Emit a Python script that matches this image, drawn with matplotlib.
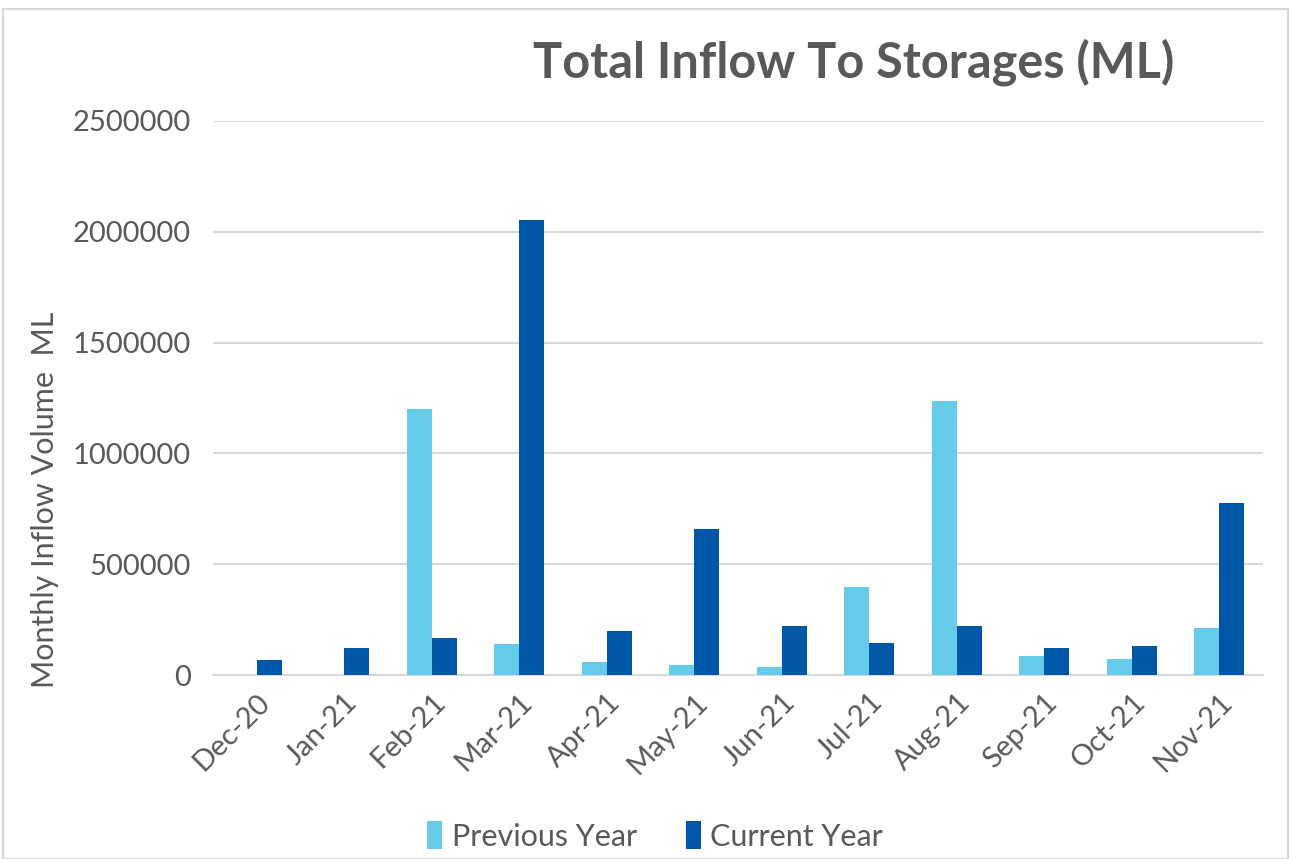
import matplotlib
matplotlib.use("Agg")
import matplotlib.pyplot as plt
import numpy as np
from matplotlib.patches import Rectangle

months = ["Dec-20", "Jan-21", "Feb-21", "Mar-21", "Apr-21", "May-21",
          "Jun-21", "Jul-21", "Aug-21", "Sep-21", "Oct-21", "Nov-21"]
previous_year = [0, 0, 1200000, 140000, 59000, 46000, 37000, 398000, 1236000, 86000, 72000, 211000]
current_year = [67000, 122000, 167000, 2053000, 200000, 657000, 221000, 143000, 221000, 123000, 129000, 778000]
y_ticks = [0, 500000, 1000000, 1500000, 2000000, 2500000]

c_prev = "#65CBE8"
c_cur = "#0057A8"
grey = "#595959"

plt.rcParams['font.family'] = ['Lato', 'DejaVu Sans']

fig = plt.figure(figsize=(12.91, 8.59), dpi=100)
ax = fig.add_axes([213/1291, 1-675/859, (1263-213)/1291, (675-121)/859])

x = np.arange(len(months))
w = 0.283
ax.bar(x - w/2, previous_year, w, color=c_prev, label="Previous Year", zorder=3)
ax.bar(x + w/2, current_year, w, color=c_cur, label="Current Year", zorder=3)

ax.set_xlim(-0.5, len(months) - 0.5)
ax.set_ylim(0, 2500000)
ax.set_yticks(y_ticks)
ax.set_yticklabels([str(v) for v in y_ticks], fontsize=21, color=grey)
ax.set_xticks(x)
ax.set_xticklabels(months, rotation=45, ha="right", rotation_mode="anchor", fontsize=21, color=grey)
ax.tick_params(axis="y", length=0, pad=16)
ax.tick_params(axis="x", length=0, pad=10)
ax.grid(axis="y", color="#D9D9D9", linewidth=1.5, zorder=0)
for s in ["top", "right", "left"]:
    ax.spines[s].set_visible(False)
ax.spines["bottom"].set_color("#D9D9D9")
ax.spines["bottom"].set_linewidth(1.5)

fig.text(45/1291, 1-500/859, "Monthly Inflow Volume  ML", fontsize=22, color=grey,
         rotation=90, ha="center", va="center")

fig.text(854/1291, 1-62/859, "Total Inflow To Storages (ML)", fontsize=35, fontweight="bold",
         color=grey, ha="center", va="center")

leg = fig.legend(loc="center", bbox_to_anchor=(655/1291, 1-836/859), ncol=2, frameon=False,
                 fontsize=22, handlelength=0.5, handleheight=1.0, handletextpad=0.3, columnspacing=1.6)
for t in leg.get_texts():
    t.set_color(grey)

fig.patches.append(Rectangle((3/1291, 0), 1-6/1291, 1-9/859, transform=fig.transFigure,
                             fill=False, edgecolor="#D9D9D9", linewidth=1.5))

fig.savefig("out.png", dpi=100, facecolor="white")
